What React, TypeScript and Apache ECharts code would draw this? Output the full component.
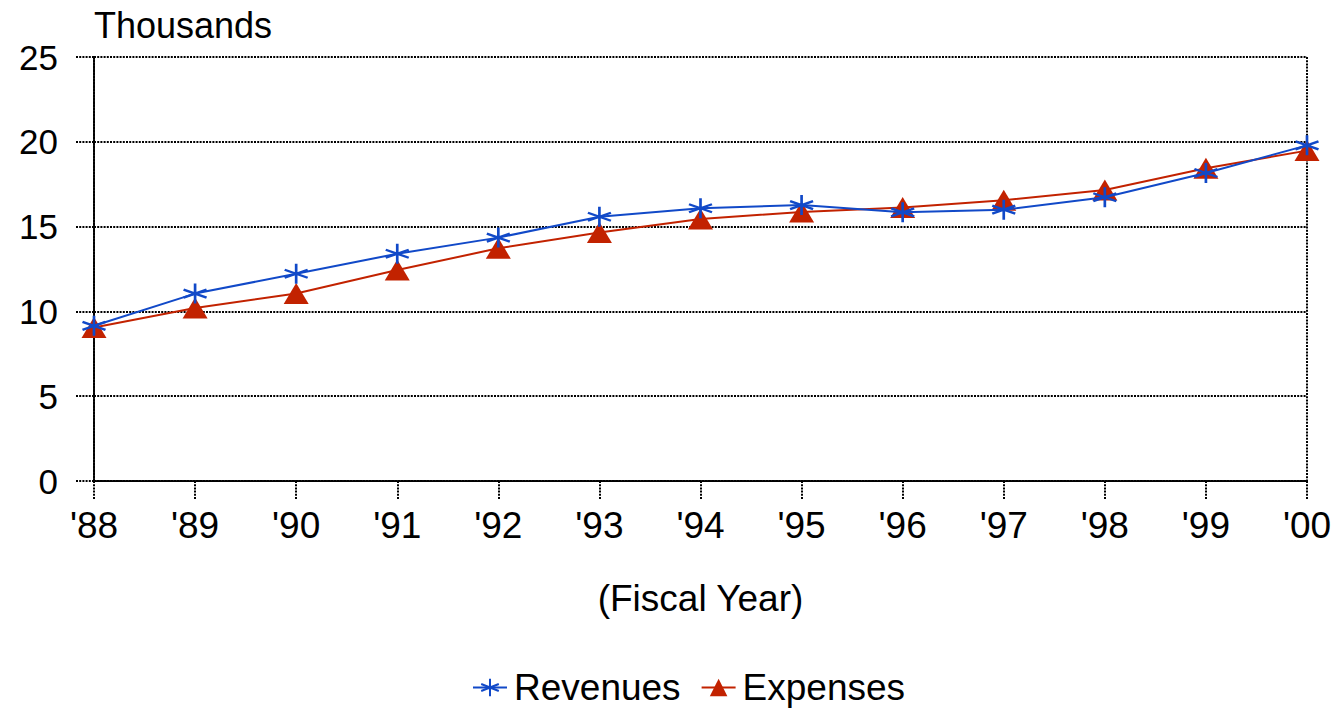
import React, { useEffect, useRef } from "react";
import * as echarts from "echarts";

const years = ["'88", "'89", "'90", "'91", "'92", "'93", "'94", "'95", "'96", "'97", "'98", "'99", "'00"];
const revenues = [9.15, 11.05, 12.22, 13.4, 14.35, 15.58, 16.08, 16.27, 15.84, 16.0, 16.73, 18.16, 19.79];
const expenses = [9.05, 10.2, 11.05, 12.44, 13.72, 14.65, 15.45, 15.86, 16.12, 16.55, 17.16, 18.44, 19.48];

const BLUE = "#1149c8";
const RED = "#c22200";
const FONT = "'Liberation Sans', Arial, sans-serif";
const dotted = { color: "#000", width: 2, type: [2, 1.2] as any };

export default function App() {
  const ref = useRef<HTMLDivElement>(null);
  useEffect(() => {
    const chart = echarts.init(ref.current!, null, { renderer: "svg" });
    chart.setOption({
      animation: false,
      textStyle: { fontFamily: FONT, color: "#000" },
      grid: { left: 94, right: 33, top: 57, bottom: 227 },
      legend: {
        data: ["Revenues", "Expenses"],
        top: 664,
        left: 467,
        itemWidth: 34,
        itemHeight: 22,
        itemGap: 20,
        textStyle: { fontSize: 37, fontFamily: FONT, color: "#000", padding: [0, 0, 0, 2] },
      },
      xAxis: {
        type: "category",
        data: years,
        boundaryGap: false,
        name: "(Fiscal Year)",
        nameLocation: "middle",
        nameGap: 99,
        nameTextStyle: { fontSize: 37, fontFamily: FONT, color: "#000" },
        axisLine: { show: true, lineStyle: dotted },
        axisTick: { show: true, length: 18, lineStyle: dotted, alignWithLabel: true },
        axisLabel: { fontSize: 37, color: "#000", margin: 26, fontFamily: FONT },
        splitLine: {
          show: true,
          interval: (i: number) => i === 0 || i === years.length - 1,
          lineStyle: dotted,
        },
      },
      yAxis: {
        type: "value",
        min: 0,
        max: 25,
        interval: 5,
        name: "Thousands",
        nameLocation: "end",
        nameGap: 14,
        nameTextStyle: {
          fontSize: 36,
          fontFamily: FONT,
          color: "#000",
          align: "left",
          verticalAlign: "bottom",
          padding: [0, 0, 0, 0],
        },
        axisLine: { show: true, lineStyle: dotted },
        axisTick: { show: true, length: 19, lineStyle: dotted },
        axisLabel: { fontSize: 35, color: "#000", margin: 36, fontFamily: FONT },
        splitLine: { show: true, lineStyle: dotted },
      },
      series: [
        {
          name: "Expenses",
          type: "line",
          data: expenses,
          symbol: "triangle",
          symbolSize: [25, 21],
          lineStyle: { color: RED, width: 2 },
          itemStyle: { color: RED },
          z: 2,
        },
        {
          name: "Revenues",
          type: "line",
          data: revenues,
          symbol: "path://M0,-10L0,10M-11,-4L11,4M-11,4L11,-4",
          symbolSize: [23, 20],
          lineStyle: { color: BLUE, width: 2 },
          itemStyle: { color: "none", borderColor: BLUE, borderWidth: 2.5 },
          z: 3,
        },
      ],
    });
    return () => chart.dispose();
  }, []);
  return (
    <div
      ref={ref}
      style={{ position: "fixed", left: 0, top: 0, width: 1340, height: 708, background: "#fff" }}
    />
  );
}
